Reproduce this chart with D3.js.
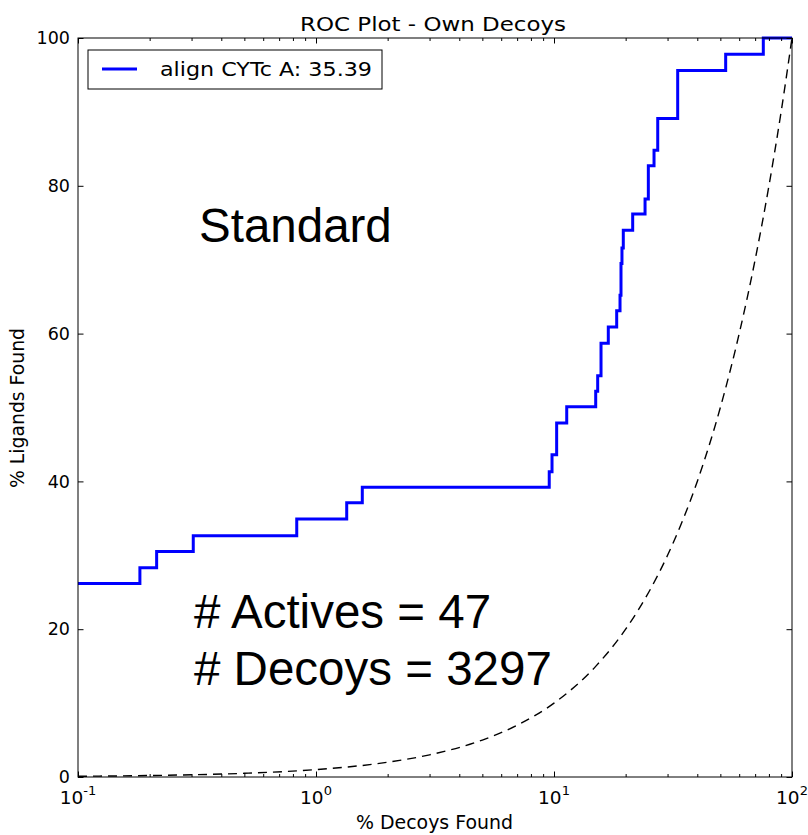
<!DOCTYPE html>
<html>
<head>
<meta charset="utf-8">
<script src="https://cdn.jsdelivr.net/npm/d3@7"></script>
<style>
  body { margin: 0; background: #fff; }
  svg { display: block; font-family: "DejaVu Sans", sans-serif; }
  .annot { font-family: "Liberation Sans", Arial, sans-serif; }
</style>
</head>
<body>
<div id="chart"></div>
<script>
// ROC curve steps (% decoys found -> % ligands found)
const decoysPct  = [0.1, 0.182, 0.214, 0.305, 0.83, 1.346, 1.565, 9.55, 9.81, 10.26, 11.31, 14.97, 15.26, 15.76, 16.91, 18.34, 18.94, 19.12, 19.3, 19.55, 21.41, 24.13, 24.91, 26.32, 27.28, 33.09, 52.64, 75.76, 100];
const ligandsPct = [26.2, 28.3, 30.5, 32.65, 34.9, 37.1, 39.2, 41.3, 43.6, 47.9, 50.1, 52.2, 54.3, 58.7, 60.9, 63.1, 65.2, 69.5, 71.6, 74.0, 76.2, 78.2, 82.7, 84.8, 89.1, 95.6, 97.8, 100, 100];

// random baseline (dashed)
const randomX = [0.1, 0.2, 0.5, 1, 2, 3, 5, 7, 10, 15, 20, 25, 30, 40, 50, 60, 70, 80, 90, 100];
const randomY = [0.1, 0.2, 0.5, 1, 2, 3, 5, 7, 10, 15, 20, 25, 30, 40, 50, 60, 70, 80, 90, 100];

const xMajor = [0.1, 1, 10, 100];
const xMajorExp = ["-1", "0", "1", "2"];
const yTicks = [0, 20, 40, 60, 80, 100];

const legendLabel = "align CYTc A: 35.39";
const title = "ROC Plot - Own Decoys";
const annotations = ["Standard", "# Actives = 47", "# Decoys = 3297"];

const width = 808, height = 835;
const mLeft = 78, mRight = 792, mTop = 38, mBottom = 777;

const svg = d3.select("#chart").append("svg")
  .attr("width", width)
  .attr("height", height);

const x = d3.scaleLog().domain([0.1, 100]).range([mLeft, mRight]);
const y = d3.scaleLinear().domain([0, 100]).range([mBottom, mTop]);

const xMinor = [];
[0.1, 1, 10].forEach(b => { for (let k = 2; k <= 9; k++) xMinor.push(b * k); });

svg.append("defs").append("clipPath").attr("id", "plotClip")
  .append("rect")
  .attr("x", mLeft).attr("y", mTop - 2)
  .attr("width", mRight - mLeft).attr("height", mBottom - mTop + 2);

// lines
const plot = svg.append("g").attr("clip-path", "url(#plotClip)");

const rocPts = decoysPct.map((d, i) => [x(d), y(ligandsPct[i])]);
plot.append("path")
  .attr("d", d3.line().curve(d3.curveStepAfter)(rocPts))
  .attr("fill", "none")
  .attr("stroke", "#0000ff")
  .attr("stroke-width", 3);

const randPts = randomX.map((d, i) => [x(d), y(randomY[i])]);
plot.append("path")
  .attr("d", d3.line().curve(d3.curveMonotoneX)(randPts))
  .attr("fill", "none")
  .attr("stroke", "#000")
  .attr("stroke-width", 1.4)
  .attr("stroke-dasharray", "9,6");

// axes with inward ticks
function styleAxis(g) {
  g.select(".domain").remove();
  g.selectAll("line").attr("stroke", "#000").attr("stroke-width", 1);
}

svg.append("g").attr("transform", `translate(0,${mBottom})`)
  .call(d3.axisBottom(x).tickValues(xMajor).tickSize(-5.5).tickFormat(""))
  .call(styleAxis);
svg.append("g").attr("transform", `translate(0,${mBottom})`)
  .call(d3.axisBottom(x).tickValues(xMinor).tickSize(-3).tickFormat(""))
  .call(styleAxis);
svg.append("g").attr("transform", `translate(0,${mTop})`)
  .call(d3.axisTop(x).tickValues(xMajor).tickSize(-5.5).tickFormat(""))
  .call(styleAxis);
svg.append("g").attr("transform", `translate(0,${mTop})`)
  .call(d3.axisTop(x).tickValues(xMinor).tickSize(-3).tickFormat(""))
  .call(styleAxis);

const yAxis = svg.append("g").attr("transform", `translate(${mLeft},0)`)
  .call(d3.axisLeft(y).tickValues(yTicks).tickSize(-5.5).tickPadding(8))
  .call(styleAxis);
yAxis.selectAll("text")
  .attr("font-size", "17.5px")
  .attr("font-family", "DejaVu Sans, sans-serif")
  .attr("fill", "#000");

svg.append("g").attr("transform", `translate(${mRight},0)`)
  .call(d3.axisRight(y).tickValues(yTicks).tickSize(-5.5).tickFormat(""))
  .call(styleAxis);

// x tick labels with exponent
const xl = svg.append("g");
xMajor.forEach((v, i) => {
  const t = xl.append("text")
    .attr("x", x(v))
    .attr("y", 804)
    .attr("text-anchor", "middle")
    .attr("font-size", "18.5px")
    .attr("fill", "#000");
  t.append("tspan").text("10");
  t.append("tspan").attr("dy", -9).attr("font-size", "13px").text(xMajorExp[i]);
});

// frame
svg.append("rect")
  .attr("x", mLeft).attr("y", mTop)
  .attr("width", mRight - mLeft).attr("height", mBottom - mTop)
  .attr("fill", "none")
  .attr("stroke", "#000")
  .attr("stroke-width", 1);

// title and axis labels
svg.append("text")
  .attr("x", 300).attr("y", 31)
  .attr("font-size", "20px")
  .attr("textLength", 266)
  .attr("lengthAdjust", "spacingAndGlyphs")
  .text(title);

svg.append("text")
  .attr("x", 356).attr("y", 829)
  .attr("font-size", "19px")
  .attr("textLength", 157)
  .attr("lengthAdjust", "spacingAndGlyphs")
  .text("% Decoys Found");

svg.append("text")
  .attr("transform", `translate(24,488) rotate(-90)`)
  .attr("font-size", "19px")
  .attr("textLength", 160)
  .attr("lengthAdjust", "spacingAndGlyphs")
  .text("% Ligands Found");

// legend
const lg = svg.append("g");
lg.append("rect")
  .attr("x", 88).attr("y", 50)
  .attr("width", 294).attr("height", 39)
  .attr("fill", "#fff")
  .attr("stroke", "#000")
  .attr("stroke-width", 1);
lg.append("line")
  .attr("x1", 102).attr("x2", 137)
  .attr("y1", 69).attr("y2", 69)
  .attr("stroke", "#0000ff")
  .attr("stroke-width", 3);
lg.append("text")
  .attr("x", 160).attr("y", 76)
  .attr("font-size", "19.5px")
  .attr("textLength", 212)
  .attr("lengthAdjust", "spacingAndGlyphs")
  .text(legendLabel);

// annotations
const annY = [242, 628, 685];
annotations.forEach((s, i) => {
  svg.append("text")
    .attr("class", "annot")
    .attr("x", i === 0 ? 199 : 194)
    .attr("y", annY[i])
    .attr("font-size", "47.5px")
    .attr("fill", "#000")
    .text(s);
});
</script>
</body>
</html>
